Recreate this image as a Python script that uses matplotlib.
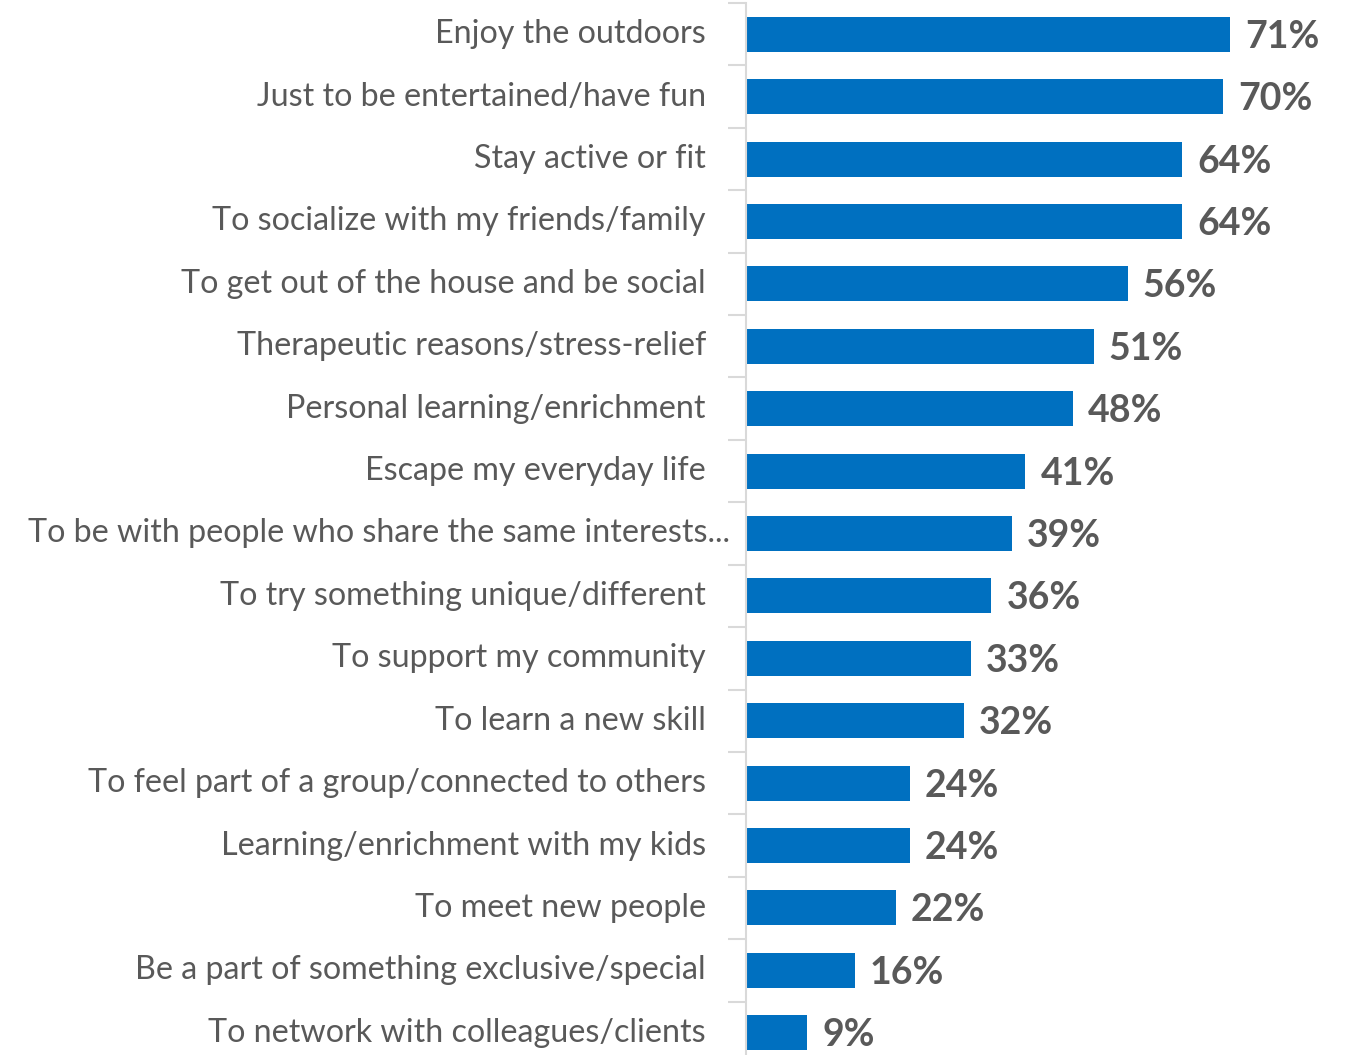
import matplotlib
matplotlib.use("Agg")
import matplotlib.pyplot as plt
import matplotlib.transforms as mtransforms

# Reasons, top to bottom, with share of respondents (%)
reasons = [
    "Enjoy the outdoors",
    "Just to be entertained/have fun",
    "Stay active or fit",
    "To socialize with my friends/family",
    "To get out of the house and be social",
    "Therapeutic reasons/stress-relief",
    "Personal learning/enrichment",
    "Escape my everyday life",
    "To be with people who share the same interests...",
    "To try something unique/different",
    "To support my community",
    "To learn a new skill",
    "To feel part of a group/connected to others",
    "Learning/enrichment with my kids",
    "To meet new people",
    "Be a part of something exclusive/special",
    "To network with colleagues/clients",
]
shares = [71, 70, 64, 64, 56, 51, 48, 41, 39, 36, 33, 32, 24, 24, 22, 16, 9]

bar_color = "#0070C0"
text_color = "#595959"
axis_color = "#D9D9D9"

plt.rcParams["font.family"] = ["Lato", "DejaVu Sans"]

W, H = 1356, 1055
fig = plt.figure(figsize=(W / 100, H / 100), dpi=100)
ax = fig.add_axes([746 / W, -9 / H, 1 - 746 / W, (1064 - 3) / H])

n = len(reasons)
ypos = list(range(n))
ax.barh(ypos, shares, height=0.56, color=bar_color, zorder=2)
ax.set_ylim(n - 0.5, -0.5)
ax.set_xlim(0, 89.5)

for y, v in zip(ypos, shares):
    ax.text(v + 2.2, y + 0.04, f"{v}%", va="center", ha="left", fontsize=27,
            fontweight="bold", color=text_color)

# category labels to the left of the axis
trans = mtransforms.blended_transform_factory(ax.transAxes, ax.transData)
for y, lab in zip(ypos, reasons):
    off = -16 if lab.endswith("...") else -40
    ax.text(0, y, lab, va="center", ha="right", fontsize=23.2,
            color=text_color,
            transform=trans + mtransforms.ScaledTranslation(off / 100, 0, fig.dpi_scale_trans))

# separators between categories on the left axis
ax.set_yticks([i - 0.5 for i in range(n + 1)])
ax.set_yticklabels([])
ax.tick_params(axis="y", length=13, width=1.5, color=axis_color)
ax.set_xticks([])
for s in ["top", "right", "bottom"]:
    ax.spines[s].set_visible(False)
ax.spines["left"].set_color(axis_color)
ax.spines["left"].set_linewidth(1.5)

fig.savefig("out.png", dpi=100)
